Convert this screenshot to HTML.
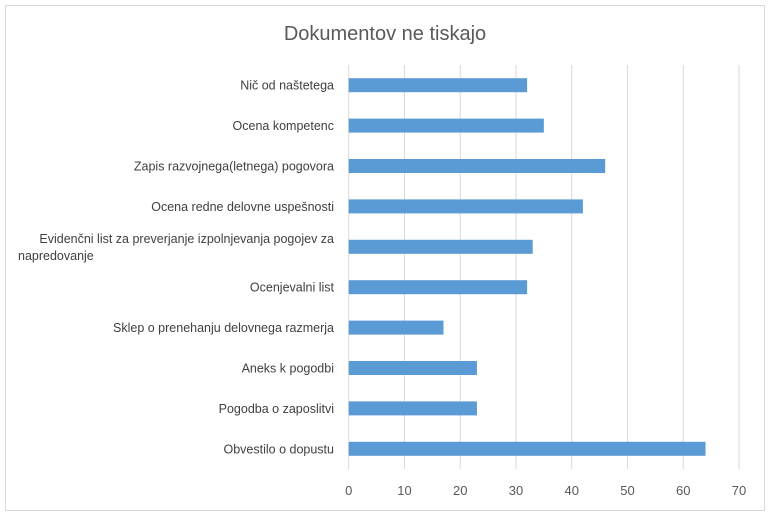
<!DOCTYPE html>
<html><head><meta charset="utf-8"><style>
body{margin:0;background:#fff;}
svg{display:block;font-family:"Liberation Sans",sans-serif;}
</style></head><body>
<svg id="c" width="771" height="517">
<rect x="5.5" y="5.5" width="759" height="505" fill="#fff" stroke="#d9d9d9"/>
<text x="385" y="40" text-anchor="middle" font-size="20" fill="#595959">Dokumentov ne tiskajo</text>
<g id="grid"></g><g id="bars"></g><g id="labels"></g><g id="ticks"></g>
</svg>
<script>
const categories=["Nič od naštetega","Ocena kompetenc","Zapis razvojnega(letnega) pogovora","Ocena redne delovne uspešnosti","Evidenčni list za preverjanje izpolnjevanja pogojev za|napredovanje","Ocenjevalni list","Sklep o prenehanju delovnega razmerja","Aneks k pogodbi","Pogodba o zaposlitvi","Obvestilo o dopustu"];
const values=[32,35,46,42,33,32,17,23,23,64];
const tickLabels=[0,10,20,30,40,50,60,70];
const x0=348.7,x1=739,vmax=70,plotTop=65,plotBottom=469;
const X=v=>x0+(x1-x0)*v/vmax;
const band=(plotBottom-plotTop)/categories.length;
const Y=i=>plotTop+band*(i+0.5);
const ns="http://www.w3.org/2000/svg";
function mk(t,a,p){const e=document.createElementNS(ns,t);for(const k in a)e.setAttribute(k,a[k]);document.getElementById(p).appendChild(e);return e;}
tickLabels.forEach(t=>{
 const l=mk("line",{x1:X(t),x2:X(t),y1:plotTop,y2:plotBottom,stroke:"#d9d9d9"},"grid");
 
 
 const tx=mk("text",{x:X(t),y:495,"text-anchor":"middle","font-size":"13",fill:"#595959"},"ticks");
 tx.textContent=t;
 
 
});
values.forEach((v,i)=>{
 const r=mk("rect",{x:X(0),y:Y(i)-7,width:X(v)-X(0),height:14,fill:"#5b9bd5"},"bars");
 
 
});
categories.forEach((c,i)=>{
 const parts=c.split("|");
 parts.forEach((p,j)=>{
  const dy=parts.length>1?(j-0.5)*17:0;
  const anchor=parts.length>1&&j>0?"start":"end";
  const x=parts.length>1?(j===0?334:18):334;
  const t=mk("text",{x:x,y:Y(i)+dy+4.5,"text-anchor":anchor,"font-size":"12.5",fill:"#404040"},"labels");
  t.textContent=p;
  
  
 });
});
</script>
</body></html>
